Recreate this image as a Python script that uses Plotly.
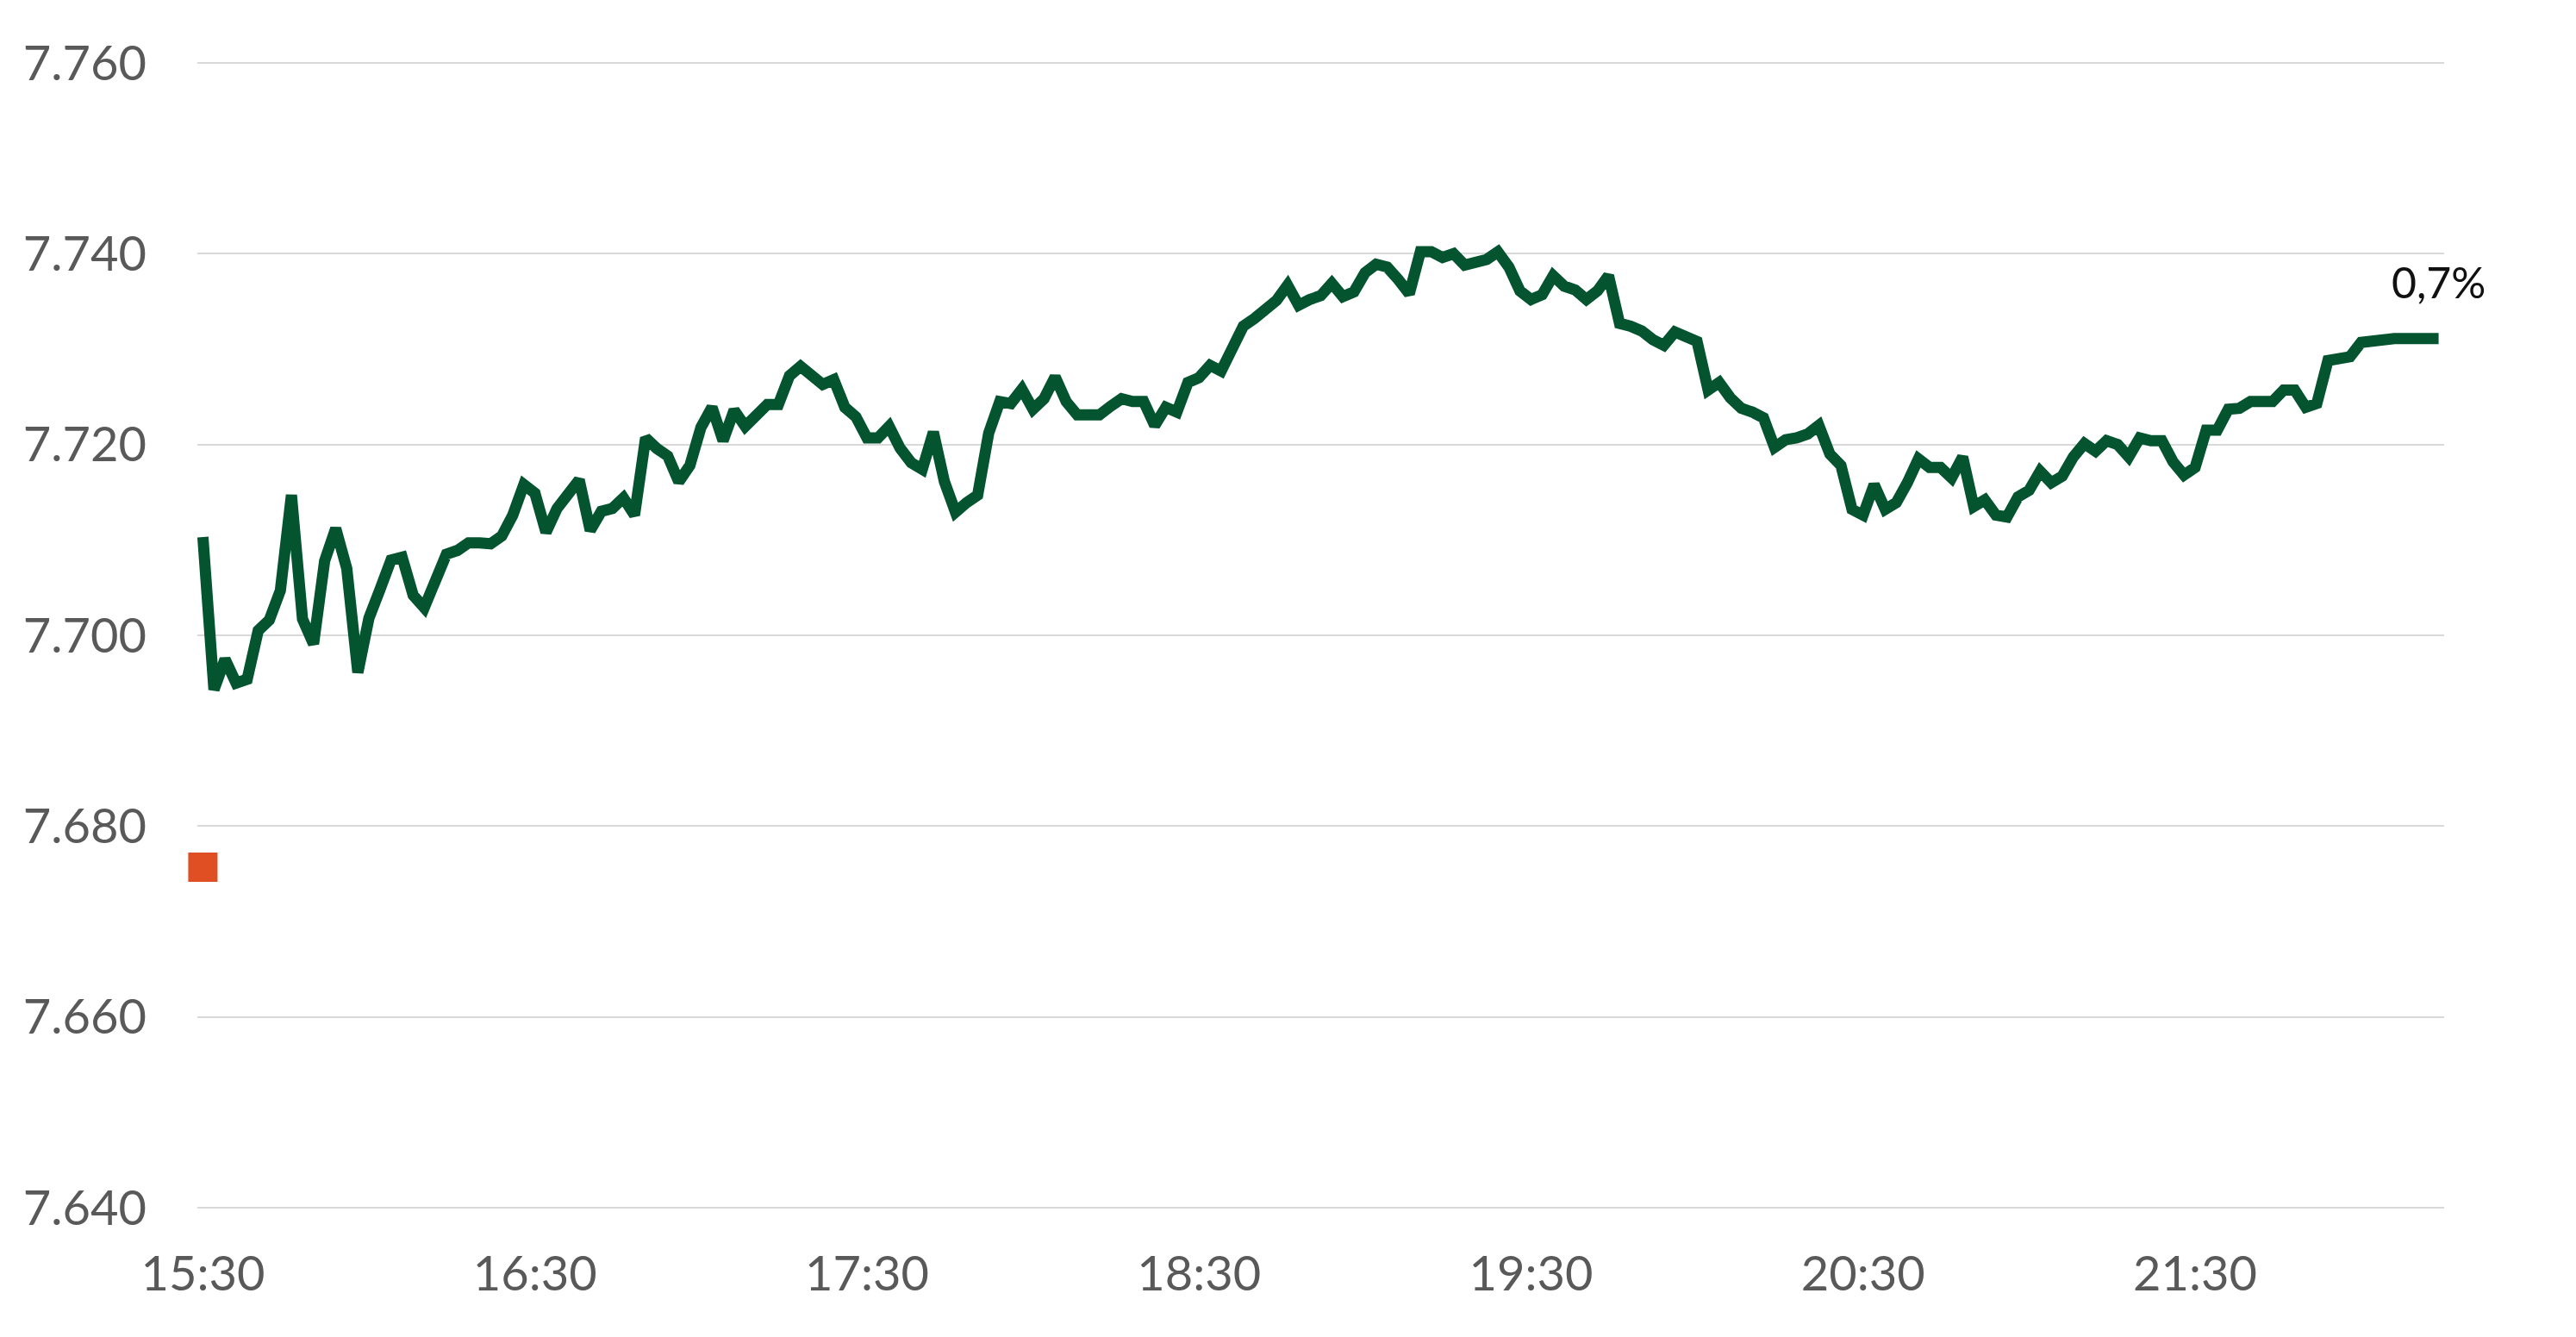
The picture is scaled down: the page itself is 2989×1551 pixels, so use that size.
import pandas as pd
import plotly.graph_objects as go

# ---- data ----
start_time = "2024-01-02 15:30"
interval = "2min"
rate = [
    7.7103, 7.6943, 7.6975, 7.6950, 7.6954, 7.7005, 7.7016, 7.7047, 7.7147, 7.7017,
    7.6991, 7.7078, 7.7112, 7.7070, 7.6961, 7.7018, 7.7048, 7.7079, 7.7082, 7.7042,
    7.7029, 7.7059, 7.7085, 7.7089, 7.7097, 7.7097, 7.7096, 7.7104, 7.7126, 7.7158,
    7.7149, 7.7108, 7.7133, 7.7148, 7.7163, 7.7110, 7.7130, 7.7133, 7.7144, 7.7126,
    7.7207, 7.7196, 7.7188, 7.7161, 7.7178, 7.7218, 7.7239, 7.7204, 7.7236, 7.7219,
    7.7232, 7.7242, 7.7242, 7.7272, 7.7282, 7.7274, 7.7263, 7.7268, 7.7239, 7.7229,
    7.7207, 7.7207, 7.7219, 7.7196, 7.7181, 7.7174, 7.7213, 7.7161, 7.7129, 7.7139,
    7.7147, 7.7212, 7.7245, 7.7243, 7.7258, 7.7237, 7.7248, 7.7271, 7.7245, 7.7231,
    7.7232, 7.7231, 7.7240, 7.7248, 7.7245, 7.7245, 7.7220, 7.7239, 7.7234, 7.7265,
    7.7270, 7.7283, 7.7277, 7.7298, 7.7324, 7.7332, 7.7340, 7.7351, 7.7367, 7.7346,
    7.7352, 7.7356, 7.7369, 7.7355, 7.7360, 7.7380, 7.7389, 7.7386, 7.7373, 7.7358,
    7.7402, 7.7402, 7.7396, 7.7400, 7.7388, 7.7392, 7.7394, 7.7402, 7.7386, 7.7361,
    7.7352, 7.7357, 7.7377, 7.7366, 7.7362, 7.7352, 7.7361, 7.7377, 7.7327, 7.7324,
    7.7319, 7.7310, 7.7304, 7.7318, 7.7313, 7.7308, 7.7257, 7.7265, 7.7249, 7.7238,
    7.7234, 7.7228, 7.7197, 7.7205, 7.7207, 7.7211, 7.7220, 7.7190, 7.7178, 7.7132,
    7.7126, 7.7158, 7.7132, 7.7139, 7.7160, 7.7185, 7.7176, 7.7176, 7.7165, 7.7187,
    7.7135, 7.7142, 7.7126, 7.7124, 7.7145, 7.7152, 7.7172, 7.7160, 7.7167, 7.7187,
    7.7201, 7.7193, 7.7204, 7.7200, 7.7187, 7.7207, 7.7204, 7.7204, 7.7182, 7.7168,
    7.7176, 7.7215, 7.7215, 7.7237, 7.7238, 7.7245, 7.7245, 7.7245, 7.7257, 7.7257,
    7.7239, 7.7243, 7.7288, 7.7289, 7.7292, 7.7307, 7.7309, 7.7310, 7.7311, 7.7311,
    7.7311, 7.7311, 7.7311,
]
reference_value = [7.6757]          # orange square at the start
change_label = "0,7%"
y_ticks = [7.640, 7.660, 7.680, 7.700, 7.720, 7.740, 7.760]
y_tick_text = ["7.640", "7.660", "7.680", "7.700", "7.720", "7.740", "7.760"]
x_tick_text = ["15:30", "16:30", "17:30", "18:30", "19:30", "20:30", "21:30"]

times = pd.date_range(start_time, periods=len(rate), freq=interval)
x_tick_vals = pd.date_range(start_time, periods=len(x_tick_text), freq="1h")

fig = go.Figure()
fig.add_trace(go.Scatter(
    x=[times[0]], y=reference_value, mode="markers",
    marker=dict(symbol="square", size=34, color="#E04E24", line=dict(width=0)),
    hoverinfo="skip", showlegend=False, cliponaxis=False,
))
fig.add_trace(go.Scatter(
    x=times, y=rate, mode="lines",
    line=dict(color="#03542F", width=13),
    showlegend=False, cliponaxis=False,
))

fig.add_annotation(
    x=times[-1], y=rate[-1], text=change_label, showarrow=False,
    xanchor="center", yanchor="middle", yshift=66, xshift=0,
    font=dict(family="Lato, Open Sans, sans-serif", size=50, color="#111111"),
)

x_start = times[0] - pd.Timedelta(minutes=1)
x_end = times[-1] + pd.Timedelta(minutes=1)

fig.update_layout(
    autosize=True,
    margin=dict(l=221, r=145, t=62, b=136),
    paper_bgcolor="white", plot_bgcolor="white",
    font=dict(family="Lato, Open Sans, sans-serif", size=56, color="#595959"),
    xaxis=dict(
        range=[x_start, x_end], showgrid=False, zeroline=False, showline=False,
        tickmode="array", tickvals=x_tick_vals, ticktext=x_tick_text,
        ticks="", ticklabelstandoff=33,
        tickfont=dict(size=56, color="#595959"),
    ),
    yaxis=dict(
        range=[7.639464, 7.760268], showgrid=True, gridcolor="#D9D9D9", gridwidth=2,
        zeroline=False, showline=False,
        tickmode="array", tickvals=y_ticks, ticktext=y_tick_text,
        ticks="", ticklabelstandoff=58,
        tickfont=dict(size=56, color="#595959"),
    ),
)

fig.write_html("out.html")
